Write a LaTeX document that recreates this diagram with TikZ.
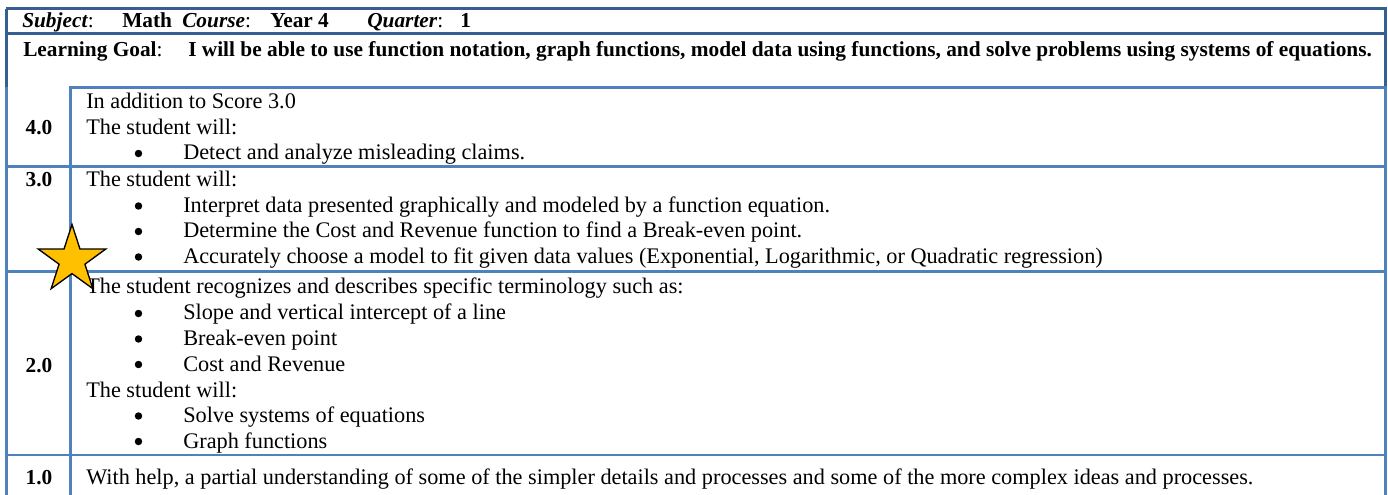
\documentclass[tikz,border=0pt]{standalone}
\usepackage{fontspec}
\setmainfont{Liberation Serif}
\usetikzlibrary{positioning}

\definecolor{frameblue}{HTML}{365F91}
\definecolor{ruleblue}{HTML}{4F81BD}
\definecolor{stargold}{HTML}{FFC000}

% one bullet point of a score cell
\newcommand\bulletline[3]{%
  \node (#1dot) [dot] at (138.5,#2-6.5) {};
  \node (#1) [body] at (183,#2) {#3};}

\begin{document}
\begin{tikzpicture}[x=0.75pt, y=-0.75pt,
    outer/.style={frameblue, line width=2pt},
    inner/.style={ruleblue, line width=2pt},
    head/.style={anchor=base west, inner sep=0pt, font=\fontsize{16}{19}\selectfont},
    goal/.style={anchor=base west, inner sep=0pt, font=\fontsize{16}{19}\selectfont\bfseries},
    body/.style={anchor=base west, inner sep=0pt, font=\fontsize{16.7}{20}\selectfont},
    dot/.style={circle, fill=black, inner sep=0pt, minimum size=5.6pt},
    score/.style={anchor=base, inner sep=0pt, font=\fontsize{16}{19}\selectfont\bfseries},
    starline/.style={draw=black, line width=1pt, fill=stargold, line join=miter}]
  \useasboundingbox (0,0) rectangle (1388,495);

  % header rows
  \node (subj) [head] at (22,27.5) {\textbf{\textit{Subject}}:};
  \node (math) [head] at (122,27.5) {\textbf{Math}};
  \node (course) [head] at (182,27.5) {\textbf{\textit{Course}}:};
  \node (year) [head] at (270,27.5) {\textbf{Year 4}};
  \node (quarter) [head] at (367,27.5) {\textbf{\textit{Quarter}}:};
  \node (qnum) [head] at (460,27.5) {\textbf{1}};
  \node (goallabel) [head] at (23,57) {\textbf{Learning Goal}:};
  \node (goaltext) [goal] at (188,57) {I will be able to use function notation, graph functions, model data using functions, and solve problems using systems of equations.};

  % score column
  \node (s4) [score] at (39,135) {4.0};
  \node (s3) [score] at (39,187) {3.0};
  \node (s2) [score] at (39,372) {2.0};
  \node (s1) [score] at (39,484) {1.0};

  % 4.0
  \node (r4a) [body] at (86,109) {In addition to Score 3.0};
  \node (r4b) [body] at (86,134.5) {The student will:};
  \bulletline{r4c}{160}{Detect and analyze misleading claims.}

  % 3.0
  \node (r3a) [body] at (86,187) {The student will:};
  \bulletline{r3b}{212.5}{Interpret data presented graphically and modeled by a function equation.}
  \bulletline{r3c}{238}{Determine the Cost and Revenue function to find a Break-even point.}
  \bulletline{r3d}{263.5}{Accurately choose a model to fit given data values (Exponential, Logarithmic, or Quadratic regression)}

  % 2.0
  \node (r2a) [body] at (86,294) {The student recognizes and describes specific terminology such as:};
  \bulletline{r2b}{320}{Slope and vertical intercept of a line}
  \bulletline{r2c}{345.5}{Break-even point}
  \bulletline{r2d}{371}{Cost and Revenue}
  \node (r2e) [body] at (86,397) {The student will:};
  \bulletline{r2f}{422.5}{Solve systems of equations}
  \bulletline{r2g}{448}{Graph functions}

  % 1.0
  \node (r1a) [body] at (86,484) {With help, a partial understanding of some of the simpler details and processes and some of the more complex ideas and processes.};

  % table rules
  \draw[outer] (5.5,8.7) -- (1386.5,8.7);
  \draw[outer] (5.5,33.7) -- (1386.5,33.7);
  \draw[outer] (6.7,8.7) -- (6.7,87.3);
  \draw[outer] (1385.5,8.7) -- (1385.5,87.3);
  \draw[inner] (6.7,87.3) -- (6.7,495);
  \draw[inner] (1385.5,87.3) -- (1385.5,495);
  \draw[inner] (69.3,87.3) -- (1386.5,87.3);
  \draw[inner] (70.3,87.3) -- (70.3,495);
  \foreach \y in {166.3,271.7,455}
    \draw[inner] (5.5,\y) -- (1386.5,\y);

  % star
  \draw[starline] (72,260) ++(-90:35.5)
    \foreach \k [evaluate=\k as \r using {mod(\k,2)==0 ? 35.5 : 13.6}] in {1,...,9}
      { -- ([shift={(72,260)}]-90-36*\k:\r) } -- cycle;
\end{tikzpicture}
\end{document}
